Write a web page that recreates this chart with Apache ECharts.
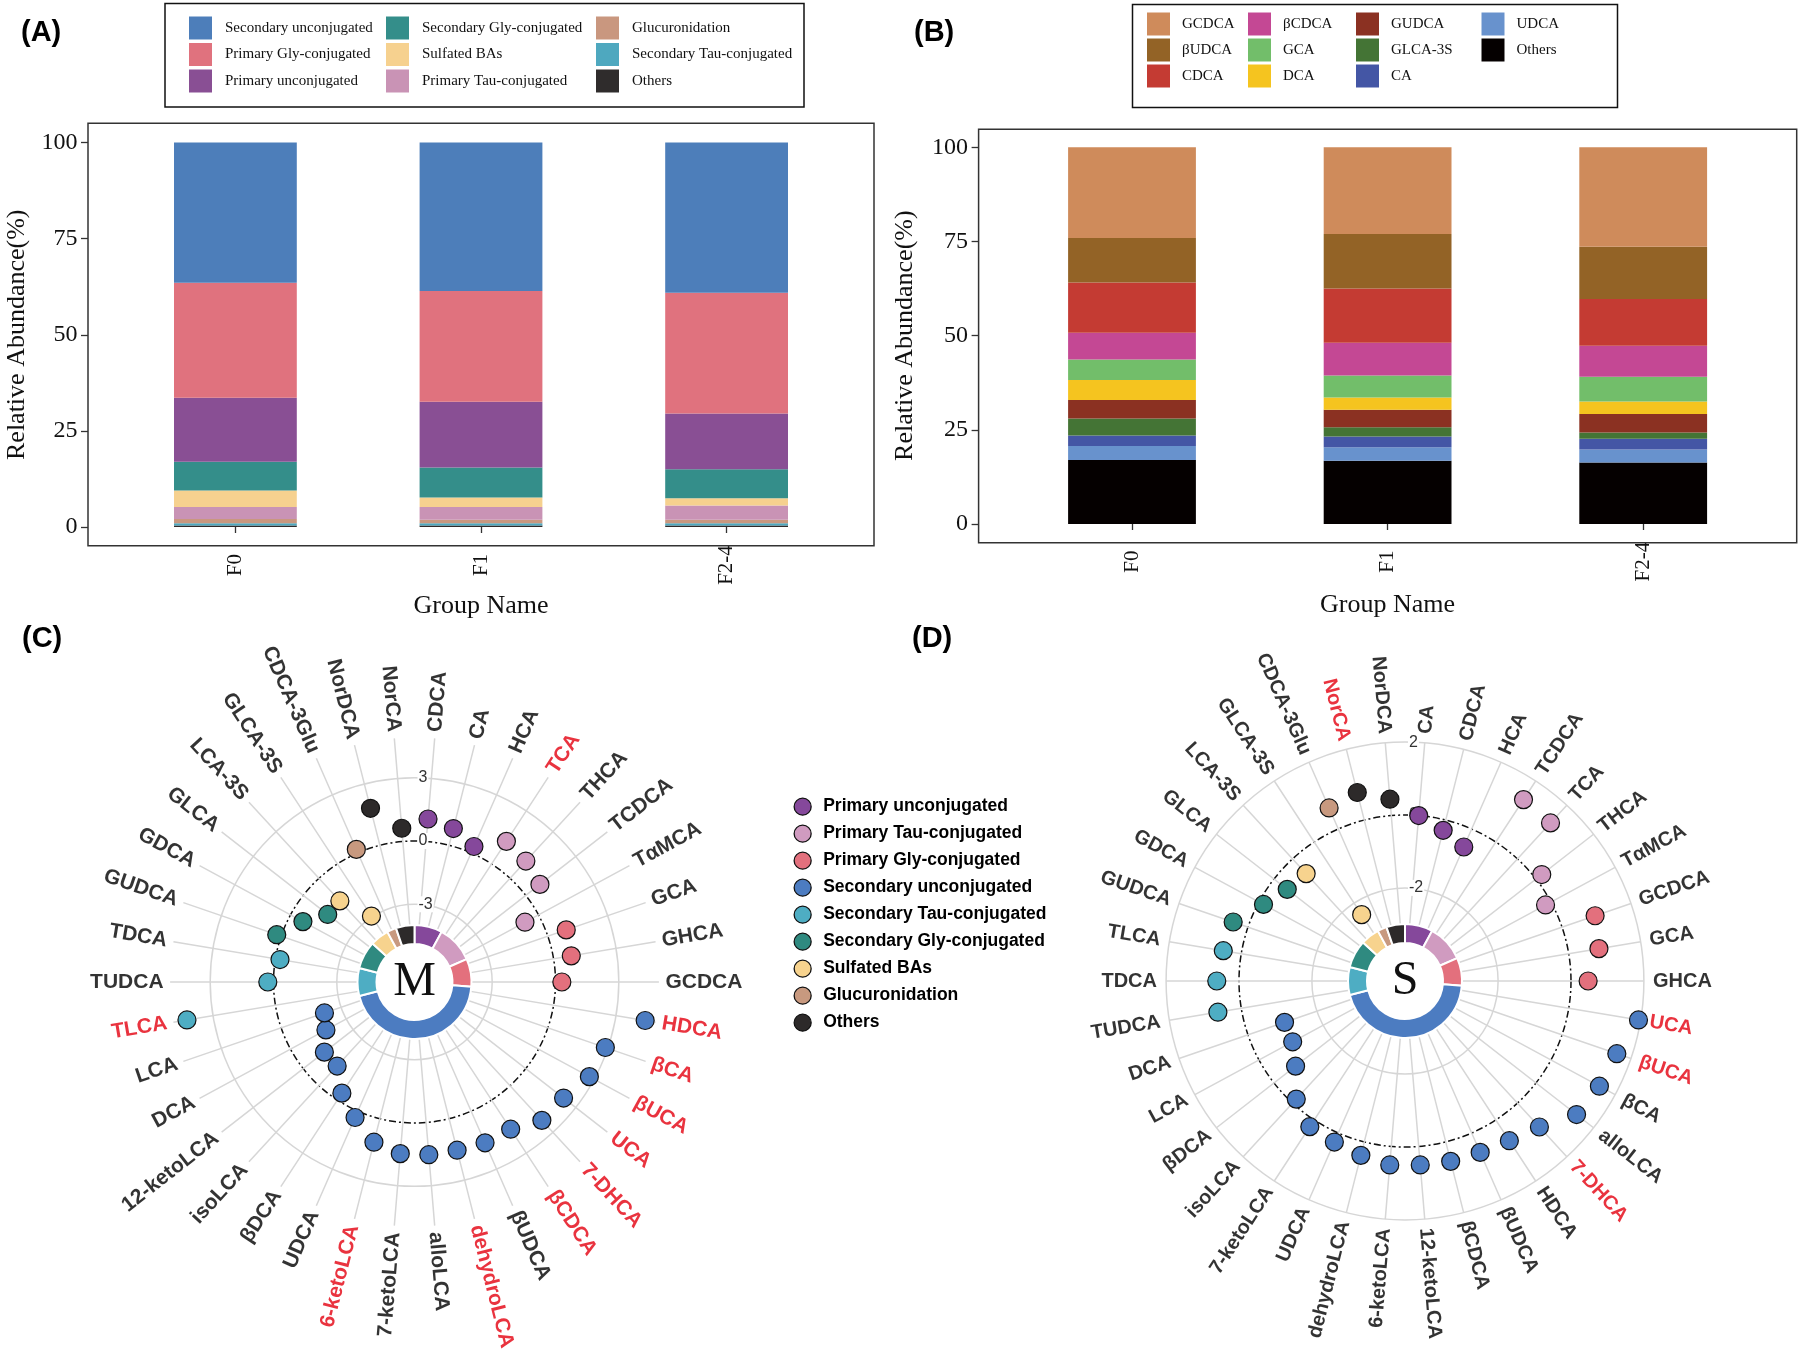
<!DOCTYPE html>
<html><head><meta charset="utf-8">
<script src="https://cdn.jsdelivr.net/npm/echarts@6/dist/echarts.min.js"></script>
<style>html,body{margin:0;padding:0;background:#fff}#c{width:1800px;height:1366px}</style>
</head><body><div id="c"></div>
<script>
// ================= DATA =================
const groupNames = ['F0', 'F1', 'F2-4'];

// Panel A – class composition (%), listed bottom -> top of stack
const aOthers          = [0.4, 0.4, 0.4];
const aSecondaryTau    = [0.6, 0.6, 0.6];
const aGlucuronidation = [1.1, 0.9, 0.9];
const aPrimaryTau      = [3.1, 3.3, 3.7];
const aSulfated        = [4.3, 2.5, 1.9];
const aSecondaryGly    = [7.5, 7.8, 7.5];
const aPrimaryUnconj   = [16.6, 17.1, 14.5];
const aPrimaryGly      = [29.9, 28.8, 31.4];
const aSecondaryUnconj = [36.5, 38.6, 39.1];

// Panel B – individual bile acids (%), bottom -> top
const bOthers = [17.0, 16.8, 16.3];
const bUDCA   = [3.7, 3.6, 3.5];
const bCA     = [2.8, 2.8, 2.8];
const bGLCA3S = [4.5, 2.5, 1.7];
const bGUDCA  = [4.9, 4.6, 4.9];
const bDCA    = [5.3, 3.3, 3.3];
const bGCA    = [5.5, 5.8, 6.6];
const bBCDCA  = [7.1, 8.7, 8.2];
const bCDCA   = [13.3, 14.4, 12.4];
const bBUDCA  = [11.8, 14.5, 13.9];
const bGCDCA  = [24.1, 23.0, 26.4];

// Panels C & D – classes (ring) and per-acid values (radial axis)
const classNames = ['Primary unconjugated', 'Primary Tau-conjugated', 'Primary Gly-conjugated',
  'Secondary unconjugated', 'Secondary Tau-conjugated', 'Secondary Gly-conjugated',
  'Sulfated BAs', 'Glucuronidation', 'Others'];
const classSizes = [3, 4, 3, 17, 3, 3, 2, 1, 2];

const cNames = ['CDCA','CA','HCA','TCA','THCA','TCDCA','TαMCA','GCA','GHCA','GCDCA',
  'HDCA','βCA','βUCA','UCA','7-DHCA','βCDCA','βUDCA','dehydroLCA','alloLCA','7-ketoLCA',
  '6-ketoLCA','UDCA','βDCA','isoLCA','12-ketoLCA','DCA','LCA',
  'TLCA','TUDCA','TDCA','GUDCA','GDCA','GLCA','LCA-3S','GLCA-3S','CDCA-3Glu','NorDCA','NorCA'];
const cValues = [1.07, 0.82, 0.33, 1.28, 1.11, 0.85, -0.73, 0.92, 0.85, 0.30,
  4.40, 2.88, 2.74, 2.27, 2.23, 1.65, 1.64, 1.54, 1.53, 1.48,
  1.15, 0.33, -0.39, -1.27, -1.27, -1.91, -2.17,
  4.25, 0.27, -0.22, 0.22, -0.67, -1.47, -1.46, -2.95, 0.18, 1.81, 0.63];
const cRed = ['TCA','HDCA','βCA','βUCA','UCA','7-DHCA','βCDCA','dehydroLCA','6-ketoLCA','TLCA'];

const dNames = ['CA','CDCA','HCA','TCDCA','TCA','THCA','TαMCA','GCDCA','GCA','GHCA',
  'UCA','βUCA','βCA','alloLCA','7-DHCA','HDCA','βUDCA','βCDCA','12-ketoLCA','6-ketoLCA',
  'dehydroLCA','UDCA','7-ketoLCA','isoLCA','βDCA','LCA','DCA',
  'TUDCA','TDCA','TLCA','GUDCA','GDCA','GLCA','LCA-3S','GLCA-3S','CDCA-3Glu','NorCA','NorDCA'];
const dValues = [0.00, -0.29, -0.54, 1.39, 1.34, 0.20, -0.17, 0.96, 0.84, 0.47,
  1.94, 1.59, 1.51, 1.41, 0.89, 0.68, 0.58, 0.55, 0.51, 0.51,
  0.38, 0.27, 0.22, -0.15, -0.75, -1.05, -1.06,
  0.65, 0.61, 0.50, 0.43, -0.14, -0.46, -0.55, -2.38, 0.63, 0.78, 0.45];
const dRed = ['NorCA','UCA','βUCA','7-DHCA'];

// ================= STYLE =================
const SERIF = '"Liberation Serif","Times New Roman",serif';
const SANS = '"Liberation Sans",Arial,sans-serif';
const T = 'rgba(0,0,0,0)';
const GG = '#d6d6d6';
const RED = '#E3000F';
const classColors = ['#85489B','#D09BC0','#E3707D','#4C7CC1','#4EADC3','#2F8A80','#F7D38E','#C8997F','#2D2A2A'];

const aSpec = [
  ['Others', aOthers, '#2F2C2C'],
  ['Secondary Tau-conjugated', aSecondaryTau, '#4EA8BF'],
  ['Glucuronidation', aGlucuronidation, '#C9977F'],
  ['Primary Tau-conjugated', aPrimaryTau, '#C993B5'],
  ['Sulfated BAs', aSulfated, '#F6D18F'],
  ['Secondary Gly-conjugated', aSecondaryGly, '#348E8A'],
  ['Primary unconjugated', aPrimaryUnconj, '#894F94'],
  ['Primary Gly-conjugated', aPrimaryGly, '#E0727E'],
  ['Secondary unconjugated', aSecondaryUnconj, '#4D7EBA']
];
const bSpec = [
  ['Others', bOthers, '#050000'],
  ['UDCA', bUDCA, '#6892CD'],
  ['CA', bCA, '#4456A5'],
  ['GLCA-3S', bGLCA3S, '#447435'],
  ['GUDCA', bGUDCA, '#8B3122'],
  ['DCA', bDCA, '#F5C41F'],
  ['GCA', bGCA, '#72BE6A'],
  ['βCDCA', bBCDCA, '#C44894'],
  ['CDCA', bCDCA, '#C43B33'],
  ['βUDCA', bBUDCA, '#936326'],
  ['GCDCA', bGCDCA, '#CF8B5B']
];

const memberClass = [];
classSizes.forEach((s, k) => { for (let j = 0; j < s; j++) memberClass.push(k); });

// ================= BUILD =================
const series = [];
aSpec.forEach(([n, d, c]) => series.push({
  type: 'bar', name: n, data: d, stack: 'A', xAxisIndex: 0, yAxisIndex: 0, barWidth: '50%',
  itemStyle: { color: c }, silent: true
}));
bSpec.forEach(([n, d, c]) => series.push({
  type: 'bar', name: n, data: d, stack: 'B', xAxisIndex: 1, yAxisIndex: 1, barWidth: '50%',
  itemStyle: { color: c }, silent: true
}));

function xAxisFor(gi, offset, gap) {
  return {
    type: 'category', gridIndex: gi, data: groupNames, offset: offset,
    axisLine: { show: false },
    axisTick: { show: true, alignWithLabel: true, length: 6, lineStyle: { color: '#333', width: 1.3 } },
    axisLabel: { rotate: 90, align: 'center', verticalAlign: 'middle', margin: 19,
      fontFamily: SERIF, fontSize: 21, color: '#111' },
    name: 'Group Name', nameLocation: 'middle', nameGap: gap,
    nameTextStyle: { fontFamily: SERIF, fontSize: 26, color: '#111' }
  };
}
function yAxisFor(gi, offset, gap) {
  return {
    type: 'value', gridIndex: gi, min: 0, max: 100, interval: 25, offset: offset,
    axisLine: { show: false },
    axisTick: { show: true, length: 7, lineStyle: { color: '#333', width: 1.3 } },
    axisLabel: { margin: 10.5, fontFamily: SERIF, fontSize: 24, color: '#111' },
    splitLine: { show: false },
    name: 'Relative Abundance(%)', nameLocation: 'middle', nameGap: gap,
    nameTextStyle: { fontFamily: SERIF, fontSize: 26, color: '#111' }
  };
}

function radialLabel(name, i, n, isRed, fs) {
  const phi = (i + 0.5) * 360 / n;
  const right = phi < 180;
  return { show: true, position: 'inside', formatter: name,
    rotate: right ? 90 - phi : 270 - phi, align: right ? 'left' : 'right', verticalAlign: 'middle',
    color: isRed ? RED : '#000', fontSize: fs, fontWeight: 'bold', fontFamily: SANS };
}

function polarPanel(pMain, center, names, values, red, labelV, fs, letter) {
  series.push({
    type: 'scatter', name: letter + ' points', coordinateSystem: 'polar', polarIndex: pMain,
    symbolSize: 18, clip: false, z: 4, silent: true,
    itemStyle: { borderColor: '#111', borderWidth: 1.2, opacity: 1 },
    data: values.map((v, i) => ({ value: [v, i], itemStyle: { color: classColors[memberClass[i]] } }))
  });
  series.push({
    type: 'scatter', name: letter + ' labels', coordinateSystem: 'polar', polarIndex: pMain,
    symbolSize: 1, clip: false, z: 4, silent: true, itemStyle: { color: T },
    data: names.map((nm, i) => ({ value: [labelV, i], label: radialLabel(nm, i, names.length, red.includes(nm), fs) }))
  });
  series.push({
    type: 'pie', name: letter + ' ring', center: center, radius: [38, 57], startAngle: 90, clockwise: true,
    silent: true, z: 3, label: { show: false }, labelLine: { show: false },
    itemStyle: { borderColor: '#fff', borderWidth: 2 },
    data: classSizes.map((s, k) => ({ value: s, name: classNames[k], itemStyle: { color: classColors[k] } }))
  });
  series.push({
    type: 'pie', name: letter + ' hub', center: center, radius: [0, 38], silent: true, z: 3,
    labelLine: { show: false },
    label: { show: true, position: 'center', formatter: letter, fontFamily: SERIF, fontSize: 48, color: '#111' },
    data: [{ value: 1, name: letter, itemStyle: { color: '#fff' } }]
  });
}
polarPanel(0, [414.5, 982], cNames, cValues, cRed, 5.21, 21, 'M');
polarPanel(2, [1405, 981], dNames, dValues, dRed, 2.25, 20, 'S');

function angleMain(pi, names) {
  return { polarIndex: pi, type: 'category', data: names, startAngle: 90, clockwise: true, boundaryGap: true, z: 0,
    axisLine: { show: false }, axisTick: { show: false, alignWithLabel: true, interval: 0 },
    axisLabel: { show: false, interval: 0 },
    splitLine: { show: true, interval: 0, lineStyle: { color: GG, width: 1.5 } } };
}
function angleHidden(pi) {
  return { polarIndex: pi, type: 'value', min: 0, max: 360, startAngle: 90, z: 0,
    axisLine: { show: false }, axisTick: { show: false }, axisLabel: { show: false }, splitLine: { show: false } };
}
const radLabel = { show: true, showMinLabel: false, align: 'left', verticalAlign: 'middle', margin: -3,
  fontSize: 16, color: '#333', fontFamily: SANS, backgroundColor: '#fff', padding: [0, 1] };

const legendA = [
  { names: ['Secondary unconjugated', 'Primary Gly-conjugated', 'Primary unconjugated'], left: 189 },
  { names: ['Secondary Gly-conjugated', 'Sulfated BAs', 'Primary Tau-conjugated'], left: 386 },
  { names: ['Glucuronidation', 'Secondary Tau-conjugated', 'Others'], left: 596 }
];
const legendB = [
  { names: ['GCDCA', 'βUDCA', 'CDCA'], left: 1147 },
  { names: ['βCDCA', 'GCA', 'DCA'], left: 1248 },
  { names: ['GUDCA', 'GLCA-3S', 'CA'], left: 1356 },
  { names: ['UDCA', 'Others'], left: 1481.5 }
];
const legends = [];
const colorOfA = Object.fromEntries(aSpec.map(s => [s[0], s[2]]));
const colorOfB = Object.fromEntries(bSpec.map(s => [s[0], s[2]]));
legendA.forEach(col => legends.push({
  orient: 'vertical', left: col.left, top: 16.5, padding: 0, itemWidth: 23, itemHeight: 23, itemGap: 3.5,
  selectedMode: false,
  textStyle: { fontFamily: SERIF, fontSize: 15, color: '#111', padding: [0, 0, 0, 8] },
  data: col.names.map(n => ({ name: n, icon: 'rect', itemStyle: { color: colorOfA[n], borderWidth: 0 } }))
}));
legendB.forEach(col => legends.push({
  orient: 'vertical', left: col.left, top: 12.5, padding: 0, itemWidth: 23, itemHeight: 23, itemGap: 3,
  selectedMode: false,
  textStyle: { fontFamily: SERIF, fontSize: 15, color: '#111', padding: [0, 0, 0, 7] },
  data: col.names.map(n => ({ name: n, icon: 'rect', itemStyle: { color: colorOfB[n], borderWidth: 0 } }))
}));
legends.push({
  orient: 'vertical', left: 793.5, top: 797.5, padding: 0, itemWidth: 17, itemHeight: 17, itemGap: 8.7,
  selectedMode: false,
  textStyle: { fontFamily: SANS, fontWeight: 'bold', fontSize: 17.5, color: '#000', padding: [0, 0, 0, 7] },
  data: classNames.map((n, k) => ({ name: n, icon: 'circle',
    itemStyle: { color: classColors[k], borderColor: '#111', borderWidth: 1.3 } }))
});

function frame(x, y, w, h, stroke) {
  return { type: 'rect', z: 10, silent: true, shape: { x: x, y: y, width: w, height: h },
    style: { fill: null, stroke: stroke, lineWidth: 1.5 } };
}
function tag(txt, left, top) {
  return { type: 'text', left: left, top: top, z: 10, silent: true,
    style: { text: txt, font: 'bold 29px ' + SANS, fill: '#000' } };
}

const option = {
  animation: false,
  backgroundColor: '#fff',
  textStyle: { fontFamily: SANS },
  grid: [
    { left: 112.6, top: 142.5, width: 736.8, height: 384.5 },
    { left: 1004.2, top: 147.3, width: 766.8, height: 376.7 }
  ],
  xAxis: [xAxisFor(0, 19, 47), xAxisFor(1, 18.7, 49)],
  yAxis: [yAxisFor(0, 24.6, 58), yAxisFor(1, 25.6, 60)],
  polar: [
    { center: [414.5, 982], radius: [14.4, 244.4] },
    { center: [414.5, 982], radius: [14.4, 244.4] },
    { center: [1405, 981], radius: [20.2, 238.9] },
    { center: [1405, 981], radius: [20.2, 238.9] }
  ],
  angleAxis: [angleMain(0, cNames), angleHidden(1), angleMain(2, dNames), angleHidden(3)],
  radiusAxis: [
    { polarIndex: 0, type: 'value', min: -6, max: 4.9, interval: 3, z: 1,
      axisLine: { show: false }, axisTick: { show: false },
      axisLabel: Object.assign({}, radLabel, { showMaxLabel: false }),
      splitLine: { show: true, lineStyle: { color: [T, GG, T, GG, T], width: 1.5 } } },
    { polarIndex: 1, type: 'value', min: -6, max: 4.9, interval: 6, z: 0,
      axisLine: { show: false }, axisTick: { show: false }, axisLabel: { show: false },
      splitLine: { show: true, lineStyle: { color: [T, '#111', T], width: 1.5, type: [7, 3, 2, 3] } } },
    { polarIndex: 2, type: 'value', min: -4, max: 2, interval: 2, z: 1,
      axisLine: { show: false }, axisTick: { show: false },
      axisLabel: radLabel,
      splitLine: { show: true, lineStyle: { color: [T, GG, T, GG], width: 1.5 } } },
    { polarIndex: 3, type: 'value', min: -4, max: 2, interval: 4, z: 0,
      axisLine: { show: false }, axisTick: { show: false }, axisLabel: { show: false },
      splitLine: { show: true, lineStyle: { color: [T, '#111', T], width: 1.5, type: [7, 3, 2, 3] } } }
  ],
  legend: legends,
  graphic: [
    frame(165, 3.5, 639, 103.5, '#111'),
    frame(1132.5, 4.5, 485, 103, '#111'),
    frame(88, 123.3, 786, 422.4, '#333'),
    frame(978.6, 129.3, 818.1, 413.4, '#333'),
    tag('(A)', 21, 18),
    tag('(B)', 914, 18),
    tag('(C)', 22, 624),
    tag('(D)', 912, 624)
  ],
  series: series
};

const chart = echarts.init(document.getElementById('c'), null, { renderer: 'canvas' });
chart.setOption(option);
</script>
</body></html>
